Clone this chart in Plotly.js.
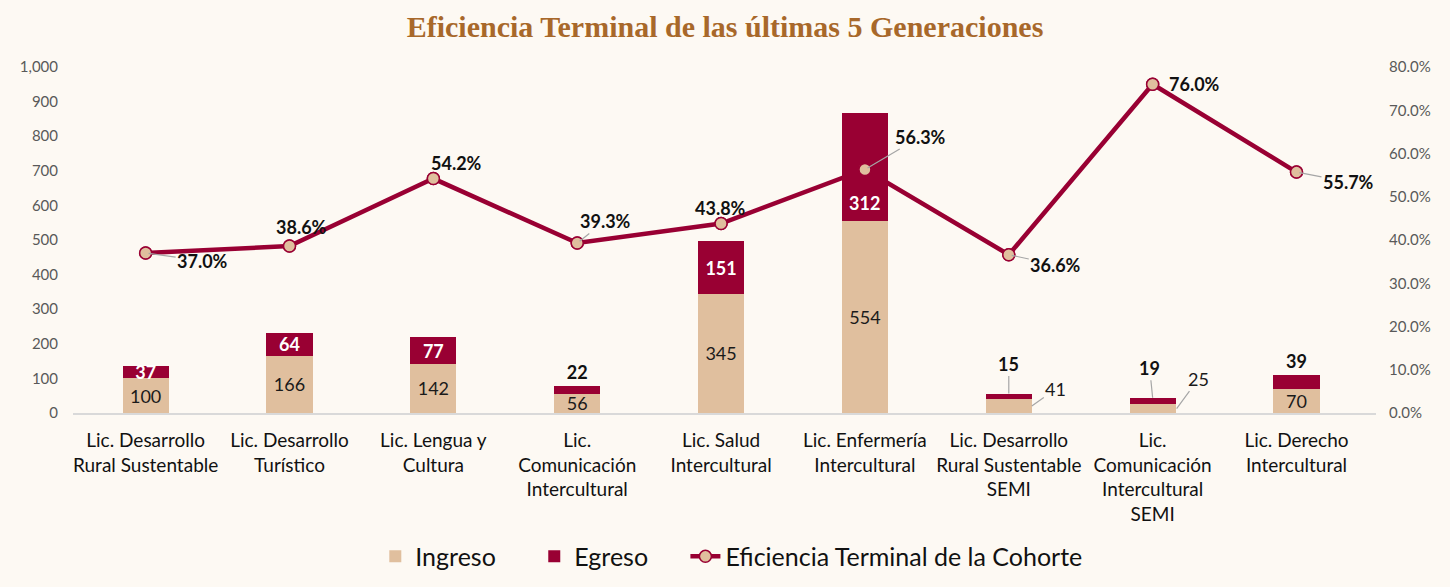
<!DOCTYPE html>
<html>
<head>
<meta charset="utf-8">
<script src="https://cdn.plot.ly/plotly-3.0.1.min.js"></script>
<style>html,body{margin:0;padding:0;background:#fdf9f3;}#chart{width:1450px;height:587px;}</style>
</head>
<body>
<div id="chart"></div>
<script>
const categories = [
  "Lic. Desarrollo<br>Rural Sustentable",
  "Lic. Desarrollo<br>Turístico",
  "Lic. Lengua y<br>Cultura",
  "Lic.<br>Comunicación<br>Intercultural",
  "Lic. Salud<br>Intercultural",
  "Lic. Enfermería<br>Intercultural",
  "Lic. Desarrollo<br>Rural Sustentable<br>SEMI",
  "Lic.<br>Comunicación<br>Intercultural<br>SEMI",
  "Lic. Derecho<br>Intercultural"
];
const ingreso = [100, 166, 142, 56, 345, 554, 41, 25, 70];
const egreso = [37, 64, 77, 22, 151, 312, 15, 19, 39];
const eficiencia = [0.370, 0.386, 0.542, 0.393, 0.438, 0.563, 0.366, 0.760, 0.557];

const FONT = "Lato, 'Open Sans', sans-serif";
const WINE = "#990033";
const TAN = "#e0bf9e";
const LBL = 18;

// label placement (pixel offsets) — styling only
const egresoPos = ["inside","inside","inside","outside","inside","none","none","none","outside"];
const ingresoCallout = {6: {xs: 23, ax: 24, ay: -17}, 7: {xs: 24, ax: 22, ay: -30}};
const egresoCallout = {6: {ax: 0, ay: -30}, 7: {ax: -3, ay: -30}};
const egresoBaseLabel = {5: 18};
const pctOffsets = [
  {ax: 57, ay: 8, arrow: true},
  {ax: 12, ay: -19, arrow: false},
  {ax: 23, ay: -16, arrow: false},
  {ax: 28, ay: -22, arrow: true},
  {ax: -1, ay: -16, arrow: false},
  {ax: 56, ay: -33, arrow: true},
  {ax: 47, ay: 10, arrow: true},
  {ax: 42, ay: 0, arrow: false},
  {ax: 52, ay: 10, arrow: true}
];

const traces = [
  {
    type: "scatter", mode: "lines+markers", name: "Eficiencia Terminal de la Cohorte",
    x: categories, y: eficiencia, yaxis: "y", legend: "legend3",
    line: {color: WINE, width: 4.5},
    marker: {size: 12, color: TAN, line: {color: WINE, width: 1.5}},
    hoverinfo: "skip"
  },
  {
    type: "bar", name: "Ingreso", x: categories, y: ingreso, yaxis: "y2", legend: "legend",
    marker: {color: TAN, line: {width: 0}},
    width: 0.32,
    text: ingreso.map((v, i) => ingresoCallout[i] ? "" : String(v)),
    textposition: "inside", insidetextanchor: "middle", constraintext: "none", textangle: 0,
    insidetextfont: {family: FONT, size: LBL, color: "#1a1a1a"},
    hoverinfo: "skip"
  },
  {
    type: "bar", name: "Egreso", x: categories, y: egreso, yaxis: "y2", legend: "legend2",
    marker: {color: WINE, line: {width: 0}},
    width: 0.32,
    text: egreso.map(v => "<b>" + v + "</b>"),
    textposition: egresoPos, insidetextanchor: "middle", constraintext: "none", textangle: 0,
    insidetextfont: {family: FONT, size: LBL, color: "#ffffff"},
    outsidetextfont: {family: FONT, size: LBL, color: "#111111"},
    cliponaxis: false,
    hoverinfo: "skip"
  },
  {
    type: "scatter", mode: "markers", showlegend: false,
    x: categories, y: eficiencia, yaxis: "y3",
    marker: {size: 12, color: TAN, line: {color: WINE, width: 1.5}},
    hoverinfo: "skip"
  }
];

const annotations = [];
eficiencia.forEach((v, i) => {
  const o = pctOffsets[i];
  const a = {
    x: categories[i], y: v, xref: "x", yref: "y3",
    text: "<b>" + (v * 100).toFixed(1) + "%</b>",
    font: {family: FONT, size: LBL, color: "#111111"}
  };
  if (o.arrow) {
    Object.assign(a, {showarrow: true, ax: o.ax, ay: o.ay, arrowhead: 0, arrowwidth: 1.2, arrowcolor: "#a6a6a6", standoff: 3});
  } else {
    Object.assign(a, {showarrow: false, xshift: o.ax, yshift: -o.ay});
  }
  annotations.push(a);
});
Object.keys(ingresoCallout).forEach(k => {
  const i = +k, o = ingresoCallout[i];
  annotations.push({
    x: categories[i], y: ingreso[i] / 2, xref: "x", yref: "y2", xshift: o.xs,
    text: String(ingreso[i]), showarrow: true, ax: o.ax, ay: o.ay,
    arrowhead: 0, arrowwidth: 1.2, arrowcolor: "#a6a6a6",
    font: {family: FONT, size: LBL, color: "#1a1a1a"}
  });
});
Object.keys(egresoCallout).forEach(k => {
  const i = +k, o = egresoCallout[i];
  annotations.push({
    x: categories[i], y: ingreso[i] + egreso[i], xref: "x", yref: "y2",
    text: "<b>" + egreso[i] + "</b>", showarrow: true, ax: o.ax, ay: o.ay,
    arrowhead: 0, arrowwidth: 1.2, arrowcolor: "#a6a6a6",
    font: {family: FONT, size: LBL, color: "#111111"}
  });
});
Object.keys(egresoBaseLabel).forEach(k => {
  const i = +k;
  annotations.push({
    x: categories[i], y: ingreso[i], xref: "x", yref: "y2", yshift: egresoBaseLabel[i],
    text: "<b>" + egreso[i] + "</b>", showarrow: false,
    font: {family: FONT, size: LBL, color: "#ffffff"}
  });
});

const legendBase = {
  orientation: "h", xanchor: "left", y: -0.415, yanchor: "middle",
  font: {family: FONT, size: 25, color: "#111111"},
  bgcolor: "rgba(0,0,0,0)"
};

const layout = {
  width: 1450, height: 587,
  paper_bgcolor: "#fdf9f3", plot_bgcolor: "#fdf9f3",
  margin: {l: 73, r: 74, t: 67, b: 174, autoexpand: false},
  barmode: "stack",
  showlegend: true,
  title: {
    text: "<b>Eficiencia Terminal de las últimas 5 Generaciones</b>",
    font: {family: "'Liberation Serif', 'DejaVu Serif', serif", size: 30, color: "#a8682a"},
    x: 0.5, xanchor: "center", y: 0.955, yanchor: "middle"
  },
  font: {family: FONT, color: "#111111"},
  xaxis: {
    type: "category", showgrid: false, zeroline: false,
    showline: true, linecolor: "#d9d9d9", linewidth: 2,
    ticks: "", tickfont: {family: FONT, size: 19, color: "#111111"},
    ticklabelstandoff: 9
  },
  yaxis: {
    side: "right", range: [0, 0.8], dtick: 0.1, tickformat: ".1%",
    showgrid: false, zeroline: false, showline: false, ticks: "",
    tickfont: {family: FONT, size: 15, color: "#595959"},
    ticklabelstandoff: 12, fixedrange: true
  },
  yaxis2: {
    overlaying: "y", side: "left", range: [0, 1000], dtick: 100, tickformat: ",",
    showgrid: false, zeroline: false, showline: false, ticks: "",
    tickfont: {family: FONT, size: 15, color: "#595959"},
    ticklabelstandoff: 14, fixedrange: true
  },
  yaxis3: {
    overlaying: "y", range: [0, 0.8], visible: false, fixedrange: true
  },
  legend: Object.assign({}, legendBase, {x: 0.232}),
  legend2: Object.assign({}, legendBase, {x: 0.354}),
  legend3: Object.assign({}, legendBase, {x: 0.470}),
  annotations: annotations
};

Plotly.newPlot("chart", traces, layout, {displayModeBar: false, staticPlot: true});
</script>
</body>
</html>
